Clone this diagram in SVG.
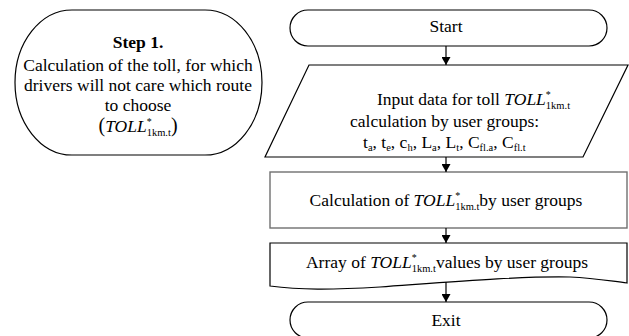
<svg xmlns="http://www.w3.org/2000/svg" width="629" height="336" viewBox="0 0 629 336" font-family="'Liberation Serif', 'DejaVu Serif', serif">
  <style>
    .shape { fill: #ffffff; stroke: #000000; stroke-width: 1.2; }
    .grey { fill: #ffffff; stroke: #707070; stroke-width: 1.4; }
    .txt { font-family: 'Liberation Serif', 'DejaVu Serif', serif; font-size: 17.5px; fill: #000000; }
    .mid { text-anchor: middle; }
    .it { font-style: italic; }
    .small { font-size: 10.5px; }
    .tiny { font-size: 10px; }
    .link { stroke: #000000; stroke-width: 1.2; fill: none; marker-end: url(#head); }
  </style>
  <defs>
    <marker id="head" markerWidth="8" markerHeight="9" refX="8" refY="4.5" orient="auto" markerUnits="userSpaceOnUse">
      <path d="M0,0 L8,4.5 L0,9 Z" fill="#000000"/>
    </marker>
  </defs>

  <!-- Step 1 description -->
  <g id="step1">
    <path class="shape" d="M72,10 H205 A57,72.5 0 0 1 205,155 H72 A57,72.5 0 0 1 72,10 Z"/>
    <text class="txt mid" x="138" y="48" font-weight="bold">Step 1.</text>
    <text class="txt mid" x="138" y="71">Calculation of the toll, for which</text>
    <text class="txt mid" x="138" y="91">drivers will not care which route</text>
    <text class="txt mid" x="138" y="111">to choose</text>
    <text class="txt mid" x="138" y="132"><tspan font-size="20px">(</tspan><tspan class="it">TOLL</tspan><tspan class="tiny" dy="-7">*</tspan><tspan class="small" dx="-5" dy="11">1km.t</tspan><tspan font-size="20px" dy="-4">)</tspan></text>
  </g>

  <!-- Start terminal -->
  <g id="start">
    <rect class="shape" x="290" y="10" width="317" height="36" rx="18" ry="18"/>
    <text class="txt mid" x="446" y="32">Start</text>
  </g>

  <!-- Input data -->
  <g id="input">
    <path class="shape" d="M309,65 H628 L583,157 H265 Z"/>
    <text class="txt" x="377" y="105">Input data for toll  <tspan class="it">TOLL</tspan><tspan class="tiny" dy="-7">*</tspan><tspan class="small" dx="-5" dy="11">1km.t</tspan></text>
    <text class="txt" x="350" y="127">calculation by user groups:</text>
    <text class="txt" x="363" y="148">t<tspan class="small" dy="3">a</tspan><tspan dy="-3">, t</tspan><tspan class="small" dy="3">e</tspan><tspan dy="-3">, c</tspan><tspan class="small" dy="3">h</tspan><tspan dy="-3">, L</tspan><tspan class="small" dy="3">a</tspan><tspan dy="-3">, L</tspan><tspan class="small" dy="3">t</tspan><tspan dy="-3">, C</tspan><tspan class="small" dy="3">fl.a</tspan><tspan dy="-3">, C</tspan><tspan class="small" dy="3">fl.t</tspan></text>
  </g>

  <!-- Calculation process -->
  <g id="calc">
    <rect class="grey" x="270" y="172" width="357" height="56"/>
    <text class="txt mid" x="446" y="206">Calculation of <tspan class="it">TOLL</tspan><tspan class="tiny" dy="-7">*</tspan><tspan class="small" dx="-5" dy="11">1km.t</tspan><tspan dy="-4">by user groups</tspan></text>
  </g>

  <!-- Output array document -->
  <g id="array">
    <path class="shape" d="M270,243 H627 V283 C610,281 595,278 570,277 C520,276 450,282 380,287 C330,290 300,290 270,286 Z"/>
    <text class="txt mid" x="447" y="268">Array of <tspan class="it">TOLL</tspan><tspan class="tiny" dy="-7">*</tspan><tspan class="small" dx="-5" dy="11">1km.t</tspan><tspan dy="-4">values by user groups</tspan></text>
  </g>

  <!-- Exit terminal -->
  <g id="exit">
    <rect class="shape" x="290" y="302" width="317" height="36" rx="18" ry="18"/>
    <text class="txt mid" x="446" y="326">Exit</text>
  </g>

  <!-- Connectors -->
  <g id="connectors">
    <line class="link" x1="446" y1="46" x2="446" y2="65"/>
    <line class="link" x1="446" y1="157" x2="446" y2="172"/>
    <line class="link" x1="446" y1="228" x2="446" y2="243"/>
    <line class="link" x1="446" y1="282" x2="446" y2="302"/>
  </g>
</svg>
